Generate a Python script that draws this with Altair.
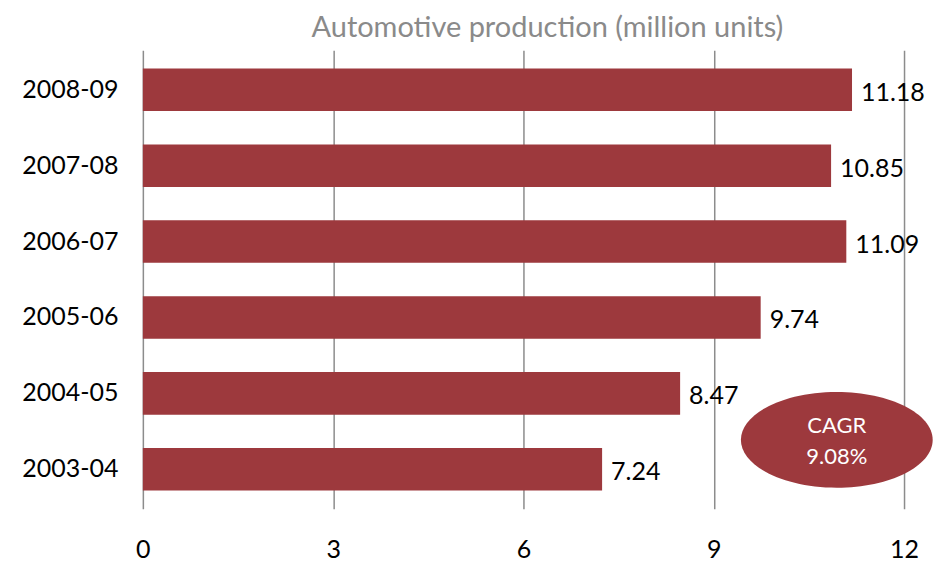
import altair as alt
import pandas as pd

years = ["2008-09", "2007-08", "2006-07", "2005-06", "2004-05", "2003-04"]
values = [11.18, 10.85, 11.09, 9.74, 8.47, 7.24]
labels = ["11.18", "10.85", "11.09", "9.74", "8.47", "7.24"]
x_ticks = [0, 3, 6, 9, 12]
cagr_text = ["CAGR", "9.08%"]
cagr_x = [10.94]

df = pd.DataFrame({"year": years, "value": values, "label": labels})
cagr_df = pd.DataFrame({"x": cagr_x, "text": ["\n".join(cagr_text)]})

FONT = "Lato"
BAR = "#9d393d"

x_scale = alt.Scale(domain=[0, 12], nice=False)
y_scale = alt.Scale(domain=years, paddingInner=0.44, paddingOuter=0.24)

bars = alt.Chart(df).mark_bar(color=BAR).encode(
    x=alt.X("value:Q", scale=x_scale, title=None,
            axis=alt.Axis(values=x_ticks, format="d", grid=True, gridColor="#8c8c8c", gridWidth=1.5,
                          domain=False, ticks=False, labelPadding=29, labelFontSize=25,
                          labelFont=FONT, labelColor="#000000", labelFlush=False)),
    y=alt.Y("year:N", sort=years, scale=y_scale, title=None,
            axis=alt.Axis(domain=False, ticks=False, labelPadding=25, labelFontSize=25,
                          labelFont=FONT, labelColor="#000000")),
)

text = alt.Chart(df).mark_text(align="left", baseline="middle", dx=9, dy=3,
                               fontSize=25, font=FONT, color="#000000").encode(
    x=alt.X("value:Q", scale=x_scale),
    y=alt.Y("year:N", sort=years, scale=y_scale),
    text="label:N",
)

ellipse_path = ("M -1 0 C -1 -0.276 -0.552 -0.5 0 -0.5 C 0.552 -0.5 1 -0.276 1 0 "
                "C 1 0.276 0.552 0.5 0 0.5 C -0.552 0.5 -1 0.276 -1 0 Z")

ellipse = alt.Chart(cagr_df).mark_point(shape=ellipse_path, filled=True, color=BAR,
                                        opacity=1, size=192 * 192).encode(
    x=alt.X("x:Q", scale=x_scale),
    y=alt.value(390),
)

cagr = alt.Chart(cagr_df).mark_text(color="white", fontSize=22, font=FONT,
                                    lineBreak="\n", lineHeight=31, baseline="middle").encode(
    x=alt.X("x:Q", scale=x_scale),
    y=alt.value(376),
    text="text:N",
)

chart = alt.layer(bars, text, ellipse, cagr).properties(
    width=762, height=459,
    title=alt.TitleParams("Automotive production (million units)", fontSize=29, font=FONT,
                          color="#8a8a8a", fontWeight="normal", anchor="middle", dx=24, offset=7),
    autosize=alt.AutoSizeParams(type="none"),
    padding={"left": 135, "top": 42, "right": 30, "bottom": 55},
).configure_view(stroke=None)

chart.save("out.html", embed_options={"renderer": "svg", "actions": False})
